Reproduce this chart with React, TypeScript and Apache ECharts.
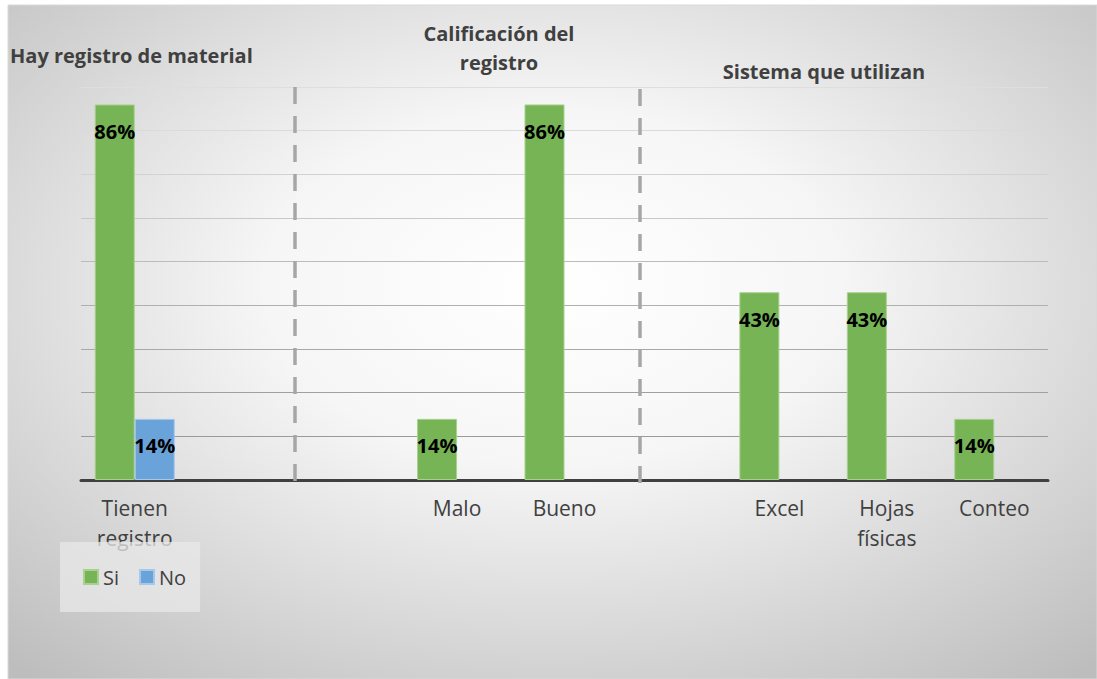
import React, { useEffect, useRef } from "react";
import * as echarts from "echarts";

const categories = ["Tienen registro", "gap1", "gap2", "Malo", "Bueno", "gap3", "Excel", "Hojas físicas", "Conteo"];
const siValues = [86, null, null, 14, 86, null, 43, 43, 14];
const noValues = [14, null, null, null, null, null, null, null, null];
const seriesNames = ["Si", "No"];
const sectionTitles = ["Hay registro de material", "Calificación del\nregistro", "Sistema que utilizan"];

const FONT = "'Open Sans', 'Liberation Sans', sans-serif";

export default function App() {
  const ref = useRef<HTMLDivElement>(null);
  useEffect(() => {
    document.body.style.margin = "0";
    const chart = echarts.init(ref.current!, null, { renderer: "svg" });
    const labelCfg = {
      show: true,
      position: "insideTop",
      distance: 17,
      formatter: "{c}%",
      color: "#000",
      fontWeight: "bold",
      fontSize: 20,
      fontFamily: FONT,
    };
    const gridColors = ["#404040", "#9a9a9a", "#a0a0a0", "#a8a8a8", "#b0b0b0", "#bcbcbc", "#c8c8c8", "#d2d2d2", "#dadada", "#dedede"];
    chart.setOption({
      animation: false,
      backgroundColor: "#ffffff",
      textStyle: { fontFamily: FONT },
      graphic: [
        {
          type: "rect",
          z: -10,
          silent: true,
          shape: { x: 8, y: 5, width: 1089, height: 674 },
          style: {
            fill: new echarts.graphic.RadialGradient(0.5, 0.42, 0.75, [
              { offset: 0, color: "#ffffff" },
              { offset: 0.35, color: "#f6f6f6" },
              { offset: 1, color: "#bdbdbd" },
            ]),
            stroke: "#d9d9d9",
            lineWidth: 1,
          },
        },
        {
          type: "line",
          z: 10,
          shape: { x1: 295, y1: 87, x2: 295, y2: 488 },
          style: { stroke: "#a6a6a6", lineWidth: 3.5, lineDash: [17, 12] },
        },
        {
          type: "line",
          z: 10,
          shape: { x1: 640, y1: 89, x2: 640, y2: 488 },
          style: { stroke: "#a6a6a6", lineWidth: 3.5, lineDash: [17, 12] },
        },
        {
          type: "text",
          x: 10,
          y: 45,
          style: { text: sectionTitles[0], font: `bold 20px ${FONT}`, fill: "#404040" },
        },
        {
          type: "text",
          x: 499,
          y: 19,
          style: { text: sectionTitles[1], font: `bold 20px ${FONT}`, fill: "#404040", textAlign: "center", lineHeight: 29 },
        },
        {
          type: "text",
          x: 824,
          y: 61,
          style: { text: sectionTitles[2], font: `bold 20px ${FONT}`, fill: "#404040", textAlign: "center" },
        },
      ],
      legend: {
        data: seriesNames,
        left: 60,
        top: 542,
        orient: "horizontal",
        icon: "rect",
        itemWidth: 14,
        itemHeight: 14,
        itemGap: 20,
        padding: [25, 14, 25, 23],
        backgroundColor: "rgba(232,232,232,0.75)",
        textStyle: { fontSize: 20, color: "#404040", fontFamily: FONT },
      },
      grid: { left: 81, right: 49, top: 87, bottom: 199 },
      xAxis: {
        type: "category",
        data: categories,
        axisLine: { show: true, lineStyle: { color: "#404040", width: 3 } },
        axisTick: { show: false },
        axisLabel: {
          interval: 0,
          margin: 13,
          fontSize: 21,
          lineHeight: 30,
          color: "#404040",
          fontFamily: FONT,
          formatter: (v: string) => (v.startsWith("gap") ? "" : v.split(" ").join("\n")),
        },
      },
      yAxis: {
        type: "value",
        min: 0,
        max: 90,
        interval: 10,
        axisLabel: { show: false },
        axisLine: { show: false },
        axisTick: { show: false },
        splitLine: { show: true, lineStyle: { color: gridColors, width: 1.2 } },
      },
      series: [
        {
          name: seriesNames[0],
          type: "bar",
          data: siValues,
          barWidth: 40,
          barGap: "0%",
          itemStyle: { color: "#76b456", borderColor: "#a9d08e", borderWidth: 1 },
          label: labelCfg,
        },
        {
          name: seriesNames[1],
          type: "bar",
          data: noValues,
          barWidth: 40,
          barGap: "0%",
          itemStyle: { color: "#6aa3da", borderColor: "#a6c8ea", borderWidth: 1 },
          label: labelCfg,
        },
      ],
    });
    return () => chart.dispose();
  }, []);
  return <div ref={ref} style={{ width: 1097, height: 679 }} />;
}
